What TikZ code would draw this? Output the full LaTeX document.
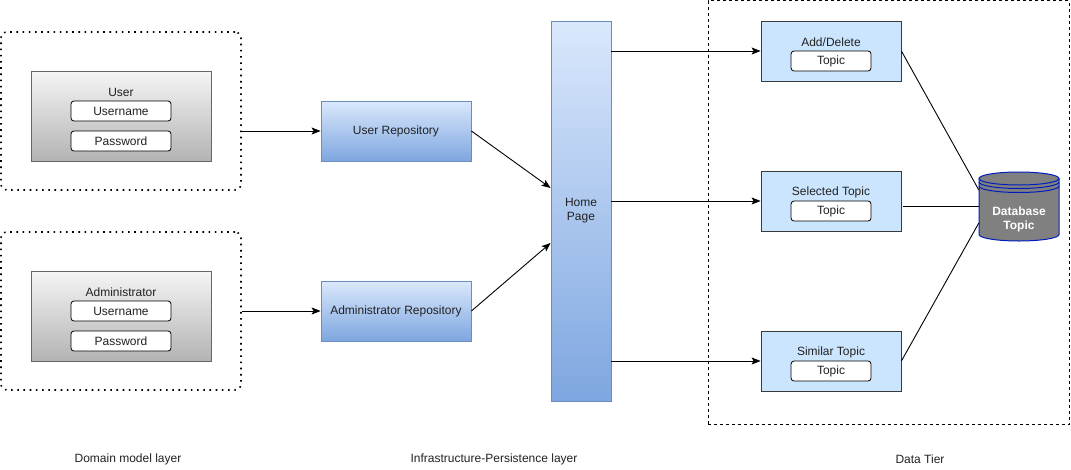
\documentclass[tikz,border=0pt]{standalone}
\usepackage{fontspec}
\setmainfont{Liberation Sans}
\usetikzlibrary{arrows.meta,calc}
\definecolor{txt}{HTML}{222222}
\definecolor{grayTop}{HTML}{F5F5F5}
\definecolor{grayBot}{HTML}{B3B3B3}
\definecolor{grayLine}{HTML}{666666}
\definecolor{blueTop}{HTML}{DAE8FC}
\definecolor{blueBot}{HTML}{7EA6E0}
\definecolor{blueLine}{HTML}{6C8EBF}
\definecolor{lightFill}{HTML}{CCE5FF}
\definecolor{lightLine}{HTML}{36393D}
\definecolor{dbFill}{HTML}{808080}
\definecolor{dbLine}{HTML}{001DBC}
\begin{document}
\begin{tikzpicture}[x=1pt,y=-1pt,
  every node/.style={font=\fontsize{12}{14}\selectfont, text=txt, inner sep=0pt},
  grp/.style={draw=black, line width=1.6pt, dash pattern=on 1.6pt off 4.6pt, rounded corners=6pt, minimum width=240pt, minimum height=158pt},
  graybox/.style={draw=grayLine, top color=grayTop, bottom color=grayBot, minimum width=180pt, minimum height=90pt, line width=0.8pt},
  pill/.style={draw=black, fill=white, rounded corners=3pt, line width=0.8pt, minimum height=20pt},
  repo/.style={draw=blueLine, top color=blueTop, bottom color=blueBot, line width=0.8pt, minimum width=150pt, minimum height=60pt},
  tierbox/.style={draw=lightLine, fill=lightFill, line width=0.8pt, minimum width=140pt, minimum height=60pt},
  conn/.style={draw=black, line width=0.9pt},
  arr/.style={conn, -{Stealth[length=9pt,width=7pt,inset=2pt]}},
  plain/.style={}
]
\useasboundingbox (0,0) rectangle (1071,469);

% Domain model layer
\node[grp] (ugrp) at (121,111) {};
\node[graybox] (ubox) at (121,116) {};
\node[plain] (ulbl) at (121,92) {User};
\node[pill, minimum width=100pt] (uname) at (121,111) {Username};
\node[pill, minimum width=100pt] (upw) at (121,141) {Password};

\node[grp] (agrp) at (121,311) {};
\node[graybox] (abox) at (121,316) {};
\node[plain] (albl) at (121,292) {Administrator};
\node[pill, minimum width=100pt] (aname) at (121,311) {Username};
\node[pill, minimum width=100pt] (apw) at (121,341) {Password};

% Infrastructure
\node[repo] (urepo) at (396,131) {User Repository};
\node[repo] (arepo) at (396,311) {Administrator Repository};
\node[draw=blueLine, top color=blueTop, bottom color=blueBot, line width=0.8pt,
      minimum width=60pt, minimum height=380pt, align=center] (hp) at (581,211) {Home\\Page};

% Data tier
\node[draw=black, line width=0.9pt, dash pattern=on 3pt off 3pt, minimum width=361pt, minimum height=424pt] (tier) at (888.5,212.5) {};

\node[tierbox] (add) at (831,51) {};
\node[plain] (addlbl) at (831,42) {Add/Delete};
\node[pill, minimum width=80pt] (addt) at (831,61) {Topic};

\node[tierbox] (sel) at (831,201) {};
\node[plain] (sellbl) at (831,192) {Selected Topic};
\node[pill, minimum width=80pt] (selt) at (831,211) {Topic};

\node[tierbox] (sim) at (831,361) {};
\node[plain] (simlbl) at (831,352) {Similar Topic};
\node[pill, minimum width=80pt] (simt) at (831,371) {Topic};

% Database cylinder
\node[minimum width=80pt, minimum height=69pt] (db) at (1019,206.5) {};
\fill[dbFill] (979,178.5) -- (979,234.5) arc[start angle=180, end angle=0, x radius=40, y radius=6.5]
   -- (1059,178.5) arc[start angle=0, end angle=-180, x radius=40, y radius=6.5] -- cycle;
\draw[dbLine, line width=1pt] (979,178.5) -- (979,234.5) arc[start angle=180, end angle=0, x radius=40, y radius=6.5]
   -- (1059,178.5) arc[start angle=0, end angle=-180, x radius=40, y radius=6.5];
\draw[dbLine, line width=1pt] (979,178.5) arc[start angle=180, end angle=0, x radius=40, y radius=6.5];
\draw[dbLine, line width=1pt] (979,182) arc[start angle=180, end angle=0, x radius=40, y radius=6.5];
\draw[dbLine, line width=1pt] (979,186) arc[start angle=180, end angle=0, x radius=40, y radius=6.5];
\node[align=center, text=white, font=\fontsize{12}{14}\selectfont\bfseries] (dblbl) at (1019,219) {Database\\Topic};

% Layer labels
\node (l1) at (128,459) {Domain model layer};
\node (l2) at (494,459) {Infrastructure-Persistence layer};
\node (l3) at (920,459) {Data Tier};

% Connectors
\draw[arr] (ugrp.east |- urepo.west) -- (urepo.west);
\draw[arr] (agrp.east |- arepo.west) -- (arepo.west);
\draw[arr] (urepo.east) -- ($(hp.west)+(0,-23)$);
\draw[arr] (arepo.east) -- ($(hp.west)+(0,32)$);
\draw[arr] (hp.east |- add.west) -- (add.west);
\draw[arr] (hp.east |- sel.west) -- (sel.west);
\draw[arr] (hp.east |- sim.west) -- (sim.west);
\draw[conn] (add.east) -- ($(db.west)+(0,-16.5)$);
\draw[conn] ($(sel.east)+(2,5)$) -- ($(db.west)+(0,-0.5)$);
\draw[conn] (sim.east) -- ($(db.west)+(0,16.5)$);
\end{tikzpicture}
\end{document}
